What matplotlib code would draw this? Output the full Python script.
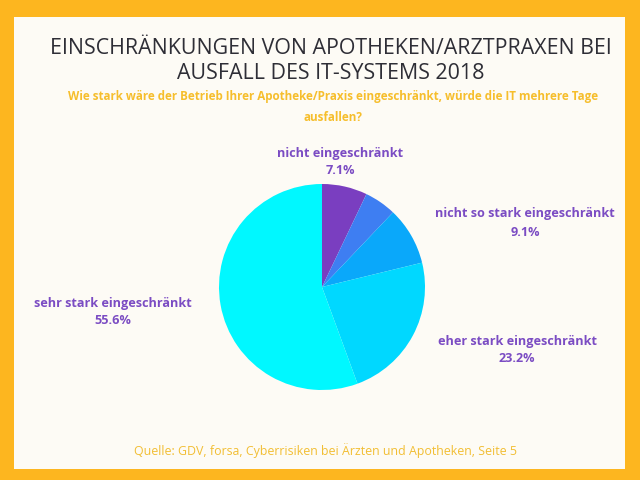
import matplotlib
matplotlib.use("Agg")
import matplotlib.pyplot as plt
from matplotlib.patches import Rectangle

# data
labels = ["nicht eingeschränkt", "", "nicht so stark eingeschränkt",
          "eher stark eingeschränkt", "sehr stark eingeschränkt"]
values = [7.1, 5.0, 9.1, 23.2, 55.6]
colors = ["#7A3EC0", "#3E7EF2", "#0AA8FA", "#00D8FF", "#00F8FF"]
# label anchor positions in pixels (x, y from top)
label_pos = [(340, 162), None, (525, 223), (517, 350), (113, 312)]

title = "EINSCHRÄNKUNGEN VON APOTHEKEN/ARZTPRAXEN BEI\nAUSFALL DES IT-SYSTEMS 2018"
subtitle = "Wie stark wäre der Betrieb Ihrer Apotheke/Praxis eingeschränkt, würde die IT mehrere Tage\nausfallen?"
source = "Quelle: GDV, forsa, Cyberrisiken bei Ärzten und Apotheken, Seite 5"

W, H = 640, 480
fig = plt.figure(figsize=(6.4, 4.8), dpi=100)
fig.patch.set_facecolor("#FDB61F")
fig.patches.append(Rectangle((14 / W, 11 / H), (625 - 14) / W, (463 - 11) / H,
                             transform=fig.transFigure, facecolor="#FDFBF5",
                             edgecolor="none", zorder=-1))

# pie centred at (322, 287) px, radius 103 px
cx, cy, r = 322, 287, 103
ax = fig.add_axes([(cx - r) / W, (H - cy - r) / H, 2 * r / W, 2 * r / H])
ax.pie(values, colors=colors, startangle=90, counterclock=False,
       wedgeprops=dict(linewidth=0))
ax.set_xlim(-1, 1)
ax.set_ylim(-1, 1)
ax.set_aspect("equal")
ax.axis("off")

for lab, val, pos in zip(labels, values, label_pos):
    if pos is None:
        continue
    fig.text(pos[0] / W, 1 - pos[1] / H, "%s\n%.1f%%" % (lab, val),
             ha="center", va="center", fontsize=9.1, fontweight="bold",
             color="#7B4CC3", family="Open Sans", linespacing=1.5)

fig.text(331 / W, 1 - 61 / H, title, ha="center", va="center", fontsize=15.4,
         color="#2E2E36", family="Open Sans", linespacing=1.2)
fig.text(333 / W, 1 - 107 / H, subtitle, ha="center", va="center", fontsize=8.4,
         fontweight="bold", color="#F6BE2C", family="Open Sans", linespacing=1.85)
fig.text(325 / W, 1 - 451 / H, source, ha="center", va="center", fontsize=8.9,
         color="#F2BE33", family="Open Sans")

fig.savefig("out.png", dpi=100, facecolor=fig.get_facecolor())
